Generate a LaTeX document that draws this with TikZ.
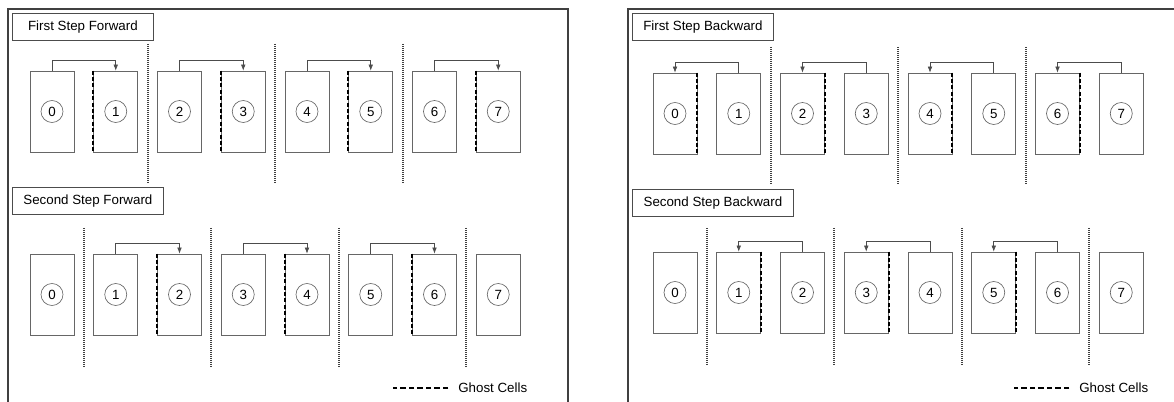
\documentclass[tikz,border=0pt]{standalone}
\usepackage{fontspec}
\setmainfont{Liberation Sans}
\usetikzlibrary{arrows.meta,positioning}

\begin{document}
\begin{tikzpicture}[x=0.75pt,y=-0.75pt,
  every node/.style={font=\fontsize{10}{12}\selectfont},
  frame/.style={draw=black!75,line width=1.2pt},
  title/.style={draw=black!70,line width=0.6pt,minimum height=20.25pt,inner sep=0pt,anchor=north west},
  cell/.style={draw=black!60,line width=0.6pt,minimum width=33pt,minimum height=60.75pt,inner sep=0pt},
  num/.style={circle,draw=black!60,line width=0.5pt,minimum size=16.5pt,inner sep=0pt},
  ghost/.style={line width=1.6pt,dash pattern=on 3pt off 1.8pt},
  sep/.style={black!75,line width=1.5pt,dash pattern=on 0.75pt off 0.75pt},
  hop/.style={draw=black!70,line width=0.5pt,-{Latex[length=4.5pt,width=3.5pt]}},
  legend/.style={line width=1.5pt,dash pattern=on 4pt off 2.4pt}]

\useasboundingbox (0,0) rectangle (1174,402);

% forward
\draw[frame] (8,402) -- (8,9) -- (568,9) -- (568,402);
\node[title,minimum width=105.75pt] (tf1) at (12,13) {First Step Forward};
\node[title,minimum width=113.25pt] (tf2) at (12,187) {Second Step Forward};
\foreach \i in {0,...,7}{
  \node[cell] (fa\i) at (52+63.75*\i,111.5) {};
  \node[num] (nfa\i) at (fa\i) {\i};
  \node[cell] (fb\i) at (52+63.75*\i,294.5) {};
  \node[num] (nfb\i) at (fb\i) {\i};
}
\foreach \a/\b in {0/1,2/3,4/5,6/7}{
  \draw[ghost] (fa\b.north west) -- (fa\b.south west);
  \draw[hop] (fa\a.north) -- ++(0,-10.5) -| (fa\b.north);
}
\foreach \a/\b in {1/2,3/4,5/6}{
  \draw[ghost] (fb\b.north west) -- (fb\b.south west);
  \draw[hop] (fb\a.north) -- ++(0,-10.5) -| (fb\b.north);
}
\foreach \i in {1,3,5} \draw[sep] (83.9+63.75*\i,44) -- ++(0,139);
\foreach \i in {0,2,4,6} \draw[sep] (83.9+63.75*\i,228) -- ++(0,139);
\node[anchor=west] (gf) at (453.6,388) {Ghost Cells};
\draw[legend] ([xshift=-4pt]gf.west) -- ++(-55,0);

% backward
\draw[frame] (628,402) -- (628,9) -- (1174,9);
\node[title,minimum width=105.75pt] (tb1) at (632,13) {First Step Backward};
\node[title,minimum width=120.75pt] (tb2) at (632,189) {Second Step Backward};
\foreach \i in {0,...,7}{
  \node[cell] (ba\i) at (675+63.75*\i,113.5) {};
  \node[num] (nba\i) at (ba\i) {\i};
  \node[cell] (bb\i) at (675+63.75*\i,292.5) {};
  \node[num] (nbb\i) at (bb\i) {\i};
}
\foreach \a/\b in {1/0,3/2,5/4,7/6}{
  \draw[ghost] (ba\b.north east) -- (ba\b.south east);
  \draw[hop] (ba\a.north) -- ++(0,-10.5) -| (ba\b.north);
}
\foreach \a/\b in {2/1,4/3,6/5}{
  \draw[ghost] (bb\b.north east) -- (bb\b.south east);
  \draw[hop] (bb\a.north) -- ++(0,-10.5) -| (bb\b.north);
}
\foreach \i in {1,3,5} \draw[sep] (706.9+63.75*\i,47) -- ++(0,138);
\foreach \i in {0,2,4,6} \draw[sep] (706.9+63.75*\i,228) -- ++(0,138);
\node[anchor=west] (gb) at (1074.6,388) {Ghost Cells};
\draw[legend] ([xshift=-4pt]gb.west) -- ++(-55,0);
\end{tikzpicture}
\end{document}
